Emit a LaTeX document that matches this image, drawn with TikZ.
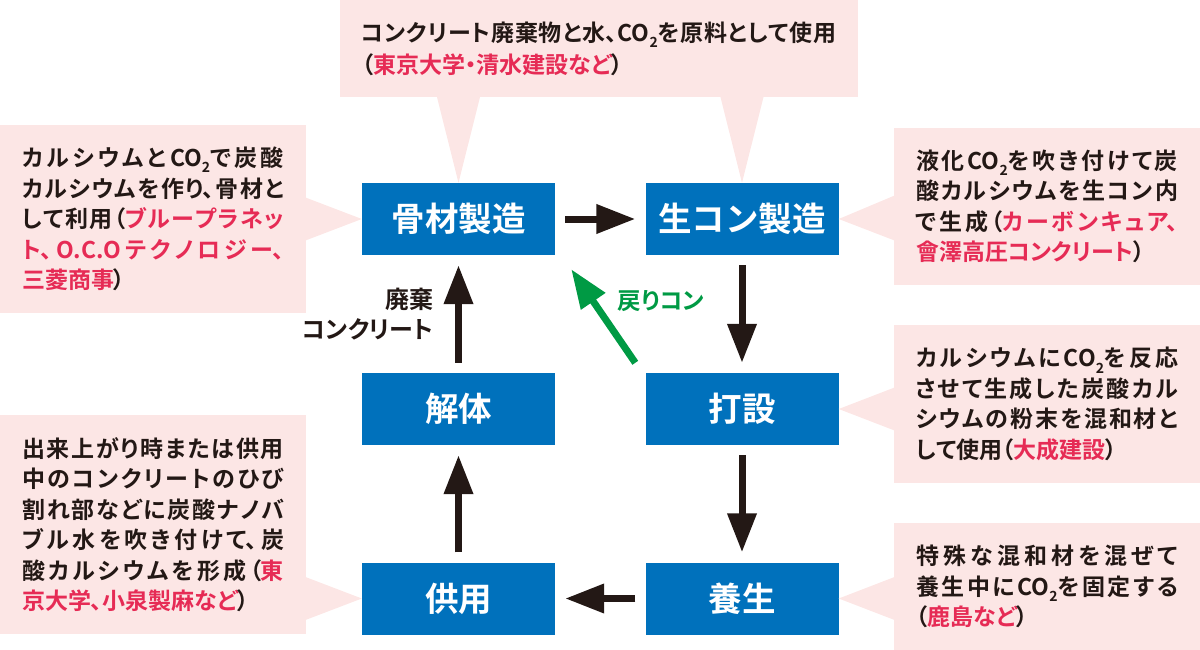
\documentclass[tikz,border=0pt]{standalone}
\usepackage{fontspec}
\setmainfont[BoldFont={Noto Sans CJK JP Bold}]{Noto Sans CJK JP}
\newfontfamily\notefont[RawFeature=+palt]{Noto Sans CJK JP Bold}
\usetikzlibrary{
    arrows.meta,
    calc,
    positioning
}
\XeTeXlinebreaklocale "ja"
\XeTeXlinebreakskip=0pt plus 6pt

\definecolor{procblue}{HTML}{0071BC}
\definecolor{notepink}{HTML}{FCE6E5}
\definecolor{firmred}{HTML}{E62B55}
\definecolor{backgreen}{HTML}{009A44}
\definecolor{inkblack}{HTML}{231815}

\newcommand{\firm}[1]{\textcolor{firmred}{#1}}
\newcommand{\cotwo}{CO\raisebox{-0.5ex}{\fontsize{14}{14}\selectfont 2}}

\tikzset{
    proc/.style={fill=procblue, text=white, minimum width=193pt, minimum height=72pt,
        inner sep=0pt, font=\fontsize{33.5}{33.5}\selectfont\bfseries},
    note/.style={fill=notepink, text=inkblack, inner sep=0pt, align=justify,
        font=\notefont\fontsize{23}{30.5}\selectfont},
    lbl/.style={text=inkblack, inner sep=0pt, font=\notefont\fontsize{24}{30}\selectfont},
    flow/.style={draw=inkblack, line width=7pt, -{Triangle[length=39pt,width=28pt]},
        shorten <=10pt, shorten >=10pt}
}

\begin{document}
\begin{tikzpicture}[x=1pt, y=-1pt]
    \useasboundingbox (0, 0) rectangle (1200, 650);

    % callouts
    \node[note, text width=475pt, minimum width=518pt, minimum height=97pt, font=\notefont\fontsize{23}{32}\selectfont]
        (topnote) at (599, 48.5)
        {コンクリート廃棄物と水、\cotwo を原料として使用\linebreak
         （\firm{東京大学・清水建設など}）};
    \node[note, text width=262pt, minimum width=306pt, minimum height=188pt] (ltnote) at (153, 219)
        {カルシウムと\cotwo で炭酸\linebreak
         カルシウムを作り、骨材と\linebreak
         して利用（\firm{ブループラネッ\linebreak
         ト、O.C.Oテクノロジー、\linebreak
         三菱商事}）};
    \node[note, text width=262pt, minimum width=306pt, minimum height=219pt] (lbnote) at (153, 524.5)
        {出来上がり時または供用\linebreak
         中のコンクリートのひび\linebreak
         割れ部などに炭酸ナノバ\linebreak
         ブル水を吹き付けて、炭\linebreak
         酸カルシウムを形成（\firm{東\linebreak
         京大学、小泉製麻など}）};
    \node[note, text width=262pt, minimum width=306pt, minimum height=157pt] (rtnote) at (1047, 206.5)
        {液化\cotwo を吹き付けて炭\linebreak
         酸カルシウムを生コン内\linebreak
         で生成（\firm{カーボンキュア、\linebreak
         會澤高圧コンクリート}）};
    \node[note, text width=262pt, minimum width=306pt, minimum height=158pt] (rmnote) at (1047, 404)
        {カルシウムに\cotwo を反応\linebreak
         させて生成した炭酸カル\linebreak
         シウムの粉末を混和材と\linebreak
         して使用（\firm{大成建設}）};
    \node[note, text width=262pt, minimum width=306pt, minimum height=127pt] (rbnote) at (1047, 586.5)
        {特殊な混和材を混ぜて\linebreak
         養生中に\cotwo を固定する\linebreak
         （\firm{鹿島など}）};

    % process boxes
    \node[proc] (kotsu) at (458.5, 219) {骨材製造};
    \node[proc] (namacon) at (742, 219) {生コン製造};
    \node[proc] (kaitai) at (458.5, 409) {解体};
    \node[proc] (datsetsu) at (742, 409) {打設};
    \node[proc] (kyoyo) at (458.5, 598.5) {供用};
    \node[proc] (yojo) at (742, 598.5) {養生};

    % callout pointers
    \fill[notepink] ($(kotsu.north |- topnote.south)+(-22,-2)$) -- (kotsu.north) -- ($(kotsu.north |- topnote.south)+(22,-2)$) -- cycle;
    \fill[notepink] ($(namacon.north |- topnote.south)+(-22,-2)$) -- (namacon.north) -- ($(namacon.north |- topnote.south)+(22,-2)$) -- cycle;
    \fill[notepink] ($(ltnote.east |- kotsu.west)+(-2,-22)$) -- (kotsu.west) -- ($(ltnote.east |- kotsu.west)+(-2,22)$) -- cycle;
    \fill[notepink] ($(lbnote.east |- kyoyo.west)+(-2,-22)$) -- (kyoyo.west) -- ($(lbnote.east |- kyoyo.west)+(-2,22)$) -- cycle;
    \fill[notepink] ($(rtnote.west |- namacon.east)+(2,-24)$) -- (namacon.east) -- ($(rtnote.west |- namacon.east)+(2,22)$) -- cycle;
    \fill[notepink] ($(rmnote.west |- datsetsu.east)+(2,-22)$) -- (datsetsu.east) -- ($(rmnote.west |- datsetsu.east)+(2,22)$) -- cycle;
    \fill[notepink] ($(rbnote.west |- yojo.east)+(2,-22)$) -- (yojo.east) -- ($(rbnote.west |- yojo.east)+(2,22)$) -- cycle;

    % cycle
    \draw[flow] (kotsu) -- (namacon);
    \draw[flow] (namacon) -- (datsetsu);
    \draw[flow] (datsetsu) -- (yojo);
    \draw[flow] (yojo) -- (kyoyo);
    \draw[flow] (kyoyo) -- (kaitai);
    \draw[flow] (kaitai) -- (kotsu);
    \node[lbl, align=right, anchor=east] (haiki) at ($(kotsu.south)!0.5!(kaitai.north)+(-25,0)$) {廃棄\\コンクリート};

    % return concrete
    \draw[flow, draw=backgreen, shorten <=0pt, shorten >=0pt]
        ([shift={(-10,-10)}]datsetsu.north west) -- ([shift={(16,14)}]kotsu.south east);
    \node[lbl, text=backgreen, font=\notefont\fontsize{23.5}{23.5}\selectfont] (modori) at (661, 301) {戻りコン};
\end{tikzpicture}
\end{document}
